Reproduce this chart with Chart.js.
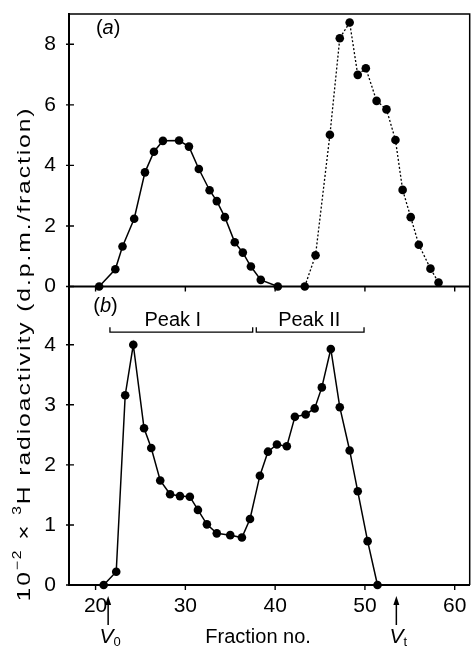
<!DOCTYPE html>
<html><head><meta charset="utf-8">
<script src="https://cdn.jsdelivr.net/npm/chart.js@4"></script>
<style>html,body{margin:0;padding:0;background:#fff;}#wrap{width:474px;height:646px;position:relative;}</style>
</head><body><div id="wrap"><canvas id="c" width="474" height="646"></canvas></div>
<script>
// ---- data ----
const topSolidX = [20.4, 22.2, 23.0, 24.3, 25.5, 26.5, 27.5, 29.3, 30.4, 31.5, 32.7, 33.5, 34.4, 35.5, 36.4, 37.3, 38.4, 40.3];
const topSolidY = [0, 0.57, 1.32, 2.24, 3.77, 4.45, 4.81, 4.82, 4.62, 3.88, 3.18, 2.82, 2.29, 1.46, 1.12, 0.66, 0.22, 0];
const topDashX = [43.3, 44.5, 46.1, 47.2, 48.3, 49.2, 50.1, 51.3, 52.4, 53.4, 54.2, 55.1, 56.0, 57.3, 58.2];
const topDashY = [0, 1.03, 5.01, 8.2, 8.72, 6.99, 7.21, 6.13, 5.85, 4.84, 3.19, 2.29, 1.38, 0.59, 0.13];
const botX = [20.9, 22.3, 23.3, 24.2, 25.4, 26.2, 27.2, 28.3, 29.4, 30.5, 31.4, 32.4, 33.5, 35.0, 36.3, 37.2, 38.3, 39.2, 40.2, 41.3, 42.2, 43.4, 44.4, 45.2, 46.2, 47.2, 48.3, 49.2, 50.3, 51.4];
const botY = [0, 0.22, 3.16, 4.0, 2.61, 2.28, 1.74, 1.51, 1.48, 1.47, 1.25, 1.01, 0.86, 0.83, 0.79, 1.10, 1.82, 2.22, 2.34, 2.31, 2.80, 2.84, 2.94, 3.29, 3.93, 2.96, 2.24, 1.56, 0.73, 0];
const xTicks = [20, 30, 40, 50, 60];
const topTicks = [0, 2, 4, 6, 8];
const botTicks = [0, 1, 2, 3, 4];
const xRange = [17.04, 61.67];
const topRange = [0, 9];
const botRange = [0, 4.97];
const peaks = [{label: 'Peak I', from: 21.6, to: 37.5, at: 28.6}, {label: 'Peak II', from: 37.9, to: 49.9, at: 43.8}];
const markers = [{sub: '0', at: 21.4}, {sub: 't', at: 53.5}];

const F = '"Liberation Sans", Arial, Helvetica, sans-serif';
const pts = (xs, ys) => xs.map((x, i) => ({x, y: ys[i]}));

function drawRuns(ctx, parts, x, y, align, spacing) {
  const sp = spacing || 0;
  let w = 0;
  parts.forEach(p => { ctx.font = p.font; p.w = ctx.measureText(p.t).width + sp * p.t.length; w += p.w; });
  let cx = align === 'center' ? x - w / 2 : x;
  parts.forEach(p => {
    ctx.font = p.font;
    if (!sp) { ctx.fillText(p.t, cx, y + (p.dy || 0)); cx += p.w; return; }
    for (const ch of p.t) { ctx.fillText(ch, cx, y + (p.dy || 0)); cx += ctx.measureText(ch).width + sp; }
  });
  return w;
}

const annot = {
  id: 'annot',
  beforeDatasetsDraw(chart) {
    const {ctx, chartArea: a, scales: {x, yTop, yBot}} = chart;
    ctx.save();
    ctx.strokeStyle = '#000';
    ctx.lineWidth = 1.5;
    ctx.beginPath();
    ctx.moveTo(a.left, a.top); ctx.lineTo(a.right, a.top); ctx.lineTo(a.right, a.bottom);
    ctx.stroke();
    const yb = yTop.getPixelForValue(0);
    ctx.lineWidth = 2;
    ctx.beginPath(); ctx.moveTo(a.left, yb); ctx.lineTo(a.right, yb); ctx.stroke();
    ctx.lineWidth = 1.4;
    ctx.beginPath();
    xTicks.forEach(v => {
      const px = x.getPixelForValue(v);
      [yb, a.bottom].forEach(py => { ctx.moveTo(px, py); ctx.lineTo(px, py + 5); });
    });
    topTicks.forEach(v => { const py = yTop.getPixelForValue(v); ctx.moveTo(a.left - 3, py); ctx.lineTo(a.left + 5, py); });
    botTicks.forEach(v => { const py = yBot.getPixelForValue(v); ctx.moveTo(a.left - 3, py); ctx.lineTo(a.left + 5, py); });
    ctx.stroke();
    ctx.restore();
  },
  afterDraw(chart) {
    const {ctx, chartArea: a, scales: {x, yTop, yBot}} = chart;
    ctx.save();
    ctx.fillStyle = '#000';
    ctx.strokeStyle = '#000';
    ctx.textBaseline = 'middle';
    // panel labels
    drawRuns(ctx, [{t: '(', font: `20px ${F}`}, {t: 'a', font: `italic 20px ${F}`}, {t: ')', font: `20px ${F}`}],
      x.getPixelForValue(21.4), yTop.getPixelForValue(8.53), 'center');
    drawRuns(ctx, [{t: '(', font: `20px ${F}`}, {t: 'b', font: `italic 20px ${F}`}, {t: ')', font: `20px ${F}`}],
      x.getPixelForValue(21.1), yBot.getPixelForValue(4.63), 'center');
    // peak brackets
    ctx.lineWidth = 1.3;
    const by = yBot.getPixelForValue(4.21);
    peaks.forEach(p => {
      const x0 = x.getPixelForValue(p.from), x1 = x.getPixelForValue(p.to);
      ctx.beginPath();
      ctx.moveTo(x0, by - 5); ctx.lineTo(x0, by); ctx.lineTo(x1, by); ctx.lineTo(x1, by - 5);
      ctx.stroke();
      drawRuns(ctx, [{t: p.label, font: `20px ${F}`}], x.getPixelForValue(p.at), yBot.getPixelForValue(4.40), 'center');
    });
    // V0 / Vt arrows
    ctx.textBaseline = 'alphabetic';
    markers.forEach(m => {
      const px = x.getPixelForValue(m.at);
      ctx.lineWidth = 1.5;
      ctx.beginPath(); ctx.moveTo(px, a.bottom + 17); ctx.lineTo(px, a.bottom + 40); ctx.stroke();
      ctx.beginPath(); ctx.moveTo(px, a.bottom + 11); ctx.lineTo(px - 3, a.bottom + 20); ctx.lineTo(px + 3, a.bottom + 20); ctx.closePath(); ctx.fill();
      drawRuns(ctx, [{t: 'V', font: `italic 21px ${F}`}, {t: m.sub, font: `13px ${F}`, dy: 3}], px + 2, a.bottom + 58, 'center');
    });
    drawRuns(ctx, [{t: 'Fraction no.', font: `20px ${F}`}], x.getPixelForValue(38.1), a.bottom + 58, 'center');
    // y title (spans both panels)
    ctx.translate(25, 354);
    ctx.rotate(-Math.PI / 2);
    const parts = [
      {t: '10', font: `19px ${F}`}, {t: '\u2212', font: `12px ${F}`, dy: -7}, {t: '2', font: `12px ${F}`, dy: -7},
      {t: ' \u00d7 ', font: `19px ${F}`}, {t: '3', font: `12px ${F}`, dy: -7},
      {t: 'H radioactivity (d.p.m./fraction)', font: `19px ${F}`}
    ];
    let w = 0, n = 0;
    parts.forEach(p => { ctx.font = p.font; w += ctx.measureText(p.t).width; n += p.t.length; });
    const target = 495, sc = 1.3;
    const spacing = Math.max(0, (target / sc - w) / n);
    ctx.scale(sc, 1);
    ctx.textBaseline = 'middle';
    drawRuns(ctx, parts, 0, 0, 'center', spacing);
    ctx.restore();
  }
};

const noPad = s => { s.paddingTop = 0; s.paddingBottom = 0; s.paddingLeft = 0; s.paddingRight = 0; };
const tickFont = {family: F, size: 21};
new Chart(document.getElementById('c'), {
  type: 'line',
  data: {
    datasets: [
      {data: pts(topSolidX, topSolidY), xAxisID: 'x', yAxisID: 'yTop', borderColor: '#000', borderWidth: 1.5,
       pointRadius: 4.3, pointBackgroundColor: '#000', pointBorderWidth: 0, tension: 0, clip: false},
      {data: pts(topDashX, topDashY), xAxisID: 'x', yAxisID: 'yTop', borderColor: '#000', borderWidth: 1.3, borderDash: [2, 2],
       pointRadius: 4.3, pointBackgroundColor: '#000', pointBorderWidth: 0, tension: 0, clip: false},
      {data: pts(botX, botY), xAxisID: 'x', yAxisID: 'yBot', borderColor: '#000', borderWidth: 1.5,
       pointRadius: 4.3, pointBackgroundColor: '#000', pointBorderWidth: 0, tension: 0, clip: false}
    ]
  },
  options: {
    responsive: false,
    animation: false,
    events: [],
    layout: {padding: {top: 14, right: 2, left: 0, bottom: 0}},
    plugins: {legend: {display: false}, tooltip: {enabled: false}},
    scales: {
      x: {
        type: 'linear', position: 'bottom', min: xRange[0], max: xRange[1],
        grid: {display: false, drawTicks: false},
        border: {display: true, color: '#000', width: 2},
        ticks: {color: '#000', font: tickFont, padding: 9, includeBounds: false, maxRotation: 0},
        afterBuildTicks: s => { s.ticks = xTicks.map(v => ({value: v})); },
        afterFit: s => { s.height = 61; noPad(s); }
      },
      yBot: {
        type: 'linear', position: 'left', stack: 'v', stackWeight: 298.5, min: botRange[0], max: botRange[1],
        grid: {display: false, drawTicks: false},
        border: {display: true, color: '#000', width: 2},
        ticks: {color: '#000', font: tickFont, padding: 13, includeBounds: false},
        afterBuildTicks: s => { s.ticks = botTicks.map(v => ({value: v})); },
        afterFit: s => { s.width = 69; noPad(s); }
      },
      yTop: {
        type: 'linear', position: 'left', stack: 'v', stackWeight: 272.5, min: topRange[0], max: topRange[1],
        grid: {display: false, drawTicks: false},
        border: {display: true, color: '#000', width: 2},
        ticks: {color: '#000', font: tickFont, padding: 13, includeBounds: false},
        afterBuildTicks: s => { s.ticks = topTicks.map(v => ({value: v})); },
        afterFit: s => { s.width = 69; noPad(s); }
      }
    }
  },
  plugins: [annot]
});
</script>
</body></html>
